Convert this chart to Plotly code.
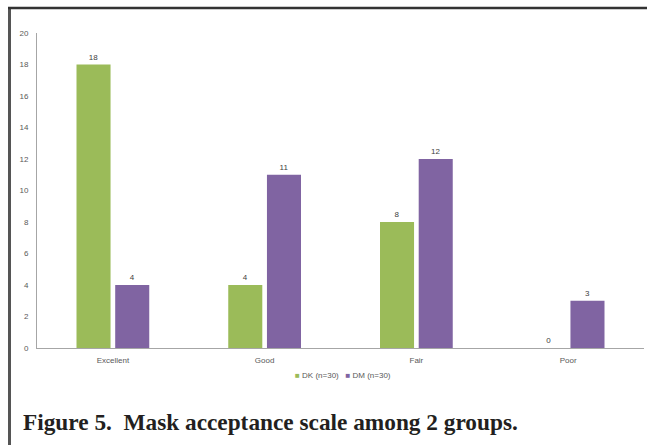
import plotly.graph_objects as go

# Mask acceptance ratings per group
categories = ["Excellent", "Good", "Fair", "Poor"]
dk_values = [18, 4, 8, 0]
dm_values = [4, 11, 12, 3]
series_names = ["DK (n=30)", "DM (n=30)"]
y_ticks = [0, 2, 4, 6, 8, 10, 12, 14, 16, 18, 20]

GREEN = "#9BBB59"
PURPLE = "#8064A2"
TICK_COLOR = "#595959"
AXIS_COLOR = "#A6A6A6"
series_colors = [GREEN, PURPLE]

# plot-area geometry in pixels, used to place the frame, legend and caption
W, H = 647, 445
L, R, T, B = 37, 3, 33, 97
pw, ph = W - L - R, H - T - B


def px_x(px):
    return (px - L) / pw


def px_y(py):
    return (H - B - py) / ph


fig = go.Figure()
for name, vals, col in zip(series_names, [dk_values, dm_values], series_colors):
    fig.add_trace(go.Bar(
        x=categories, y=vals, name=name,
        marker=dict(color=col, line=dict(width=0)),
        text=[str(v) for v in vals], textposition="outside",
        textfont=dict(size=8, color="#404040", family="Liberation Sans"),
        cliponaxis=False, showlegend=False,
    ))

# compact legend: small coloured squares next to the series names
legend_text = "\u00a0\u00a0\u00a0".join(
    f"<span style='color:{c}'>■</span>\u00a0{n}" for n, c in zip(series_names, series_colors)
)

fig.update_layout(
    width=W, height=H,
    margin=dict(l=L, r=R, t=T, b=B, pad=0),
    paper_bgcolor="white", plot_bgcolor="white",
    barmode="group", bargap=0.49, bargroupgap=0.12,
    font=dict(family="Liberation Sans", size=8, color=TICK_COLOR),
    xaxis=dict(
        showline=True, linecolor=AXIS_COLOR, linewidth=1,
        showgrid=False, ticks="", tickfont=dict(size=8, color=TICK_COLOR),
        ticklabelstandoff=4, fixedrange=True,
    ),
    yaxis=dict(
        range=[0, 20], tickvals=y_ticks, showline=True,
        linecolor=AXIS_COLOR, linewidth=1, showgrid=False, zeroline=False,
        ticks="", tickfont=dict(size=8, color=TICK_COLOR), ticklabelstandoff=6,
        fixedrange=True,
    ),
    shapes=[
        # figure frame: left and top rules
        dict(type="line", xref="paper", yref="paper",
             x0=px_x(9.5), x1=px_x(9.5), y0=px_y(7), y1=px_y(H),
             line=dict(color="#555555", width=3)),
        dict(type="line", xref="paper", yref="paper",
             x0=px_x(8), x1=px_x(W), y0=px_y(8), y1=px_y(8),
             line=dict(color="#333333", width=2.5)),
    ],
    annotations=[
        dict(
            text=legend_text,
            xref="paper", yref="paper", x=px_x(343), y=px_y(375),
            xanchor="center", yanchor="middle", showarrow=False,
            font=dict(family="Liberation Sans", size=8, color=TICK_COLOR),
        ),
        dict(
            text="<b>Figure 5.\u00a0\u00a0Mask acceptance scale among 2 groups.</b>",
            xref="paper", yref="paper", x=px_x(21), y=px_y(422),
            xanchor="left", yanchor="middle", showarrow=False,
            font=dict(family="Liberation Serif", size=23.3, color="#231F20"),
        ),
    ],
)

fig.write_html("out.html")
